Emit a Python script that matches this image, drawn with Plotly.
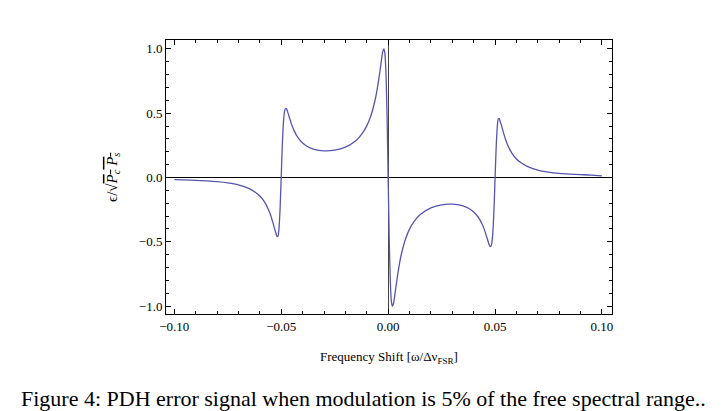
import plotly.graph_objects as go

# Frequency shift (units of FSR) and normalized PDH error signal
freq_shift = [
    -0.100, -0.095, -0.090, -0.085, -0.080, -0.075, -0.070, -0.065, -0.062, -0.060,
    -0.058, -0.056, -0.055, -0.054, -0.053, -0.0525, -0.052, -0.0515, -0.051, -0.0505,
    -0.050, -0.0495, -0.049, -0.0485, -0.048, -0.0475, -0.047, -0.046, -0.045, -0.044,
    -0.042, -0.040, -0.038, -0.035, -0.030, -0.025, -0.020, -0.015, -0.012, -0.010,
    -0.008, -0.006, -0.005, -0.004, -0.003, -0.0025, -0.002, -0.0015, -0.001, -0.0005,
    0.000,
    0.0005, 0.001, 0.0015, 0.002, 0.0025, 0.003, 0.004, 0.005, 0.006, 0.008,
    0.010, 0.012, 0.015, 0.020, 0.025, 0.030, 0.035, 0.038, 0.040, 0.042,
    0.044, 0.045, 0.046, 0.047, 0.0475, 0.048, 0.0485, 0.049, 0.0495, 0.050,
    0.0505, 0.051, 0.0515, 0.052, 0.0525, 0.053, 0.054, 0.055, 0.056, 0.058,
    0.060, 0.062, 0.065, 0.070, 0.075, 0.080, 0.085, 0.090, 0.095, 0.100,
]
error_signal = [
    -0.017, -0.019, -0.022, -0.026, -0.032, -0.042, -0.058, -0.087, -0.116, -0.144,
    -0.185, -0.248, -0.291, -0.345, -0.405, -0.430, -0.458, -0.455, -0.385, -0.225,
    0.010, 0.250, 0.420, 0.510, 0.536, 0.532, 0.510, 0.456, 0.405, 0.364,
    0.305, 0.268, 0.243, 0.221, 0.207, 0.212, 0.236, 0.288, 0.345, 0.401,
    0.484, 0.610, 0.698, 0.806, 0.928, 0.980, 1.000, 0.962, 0.802, 0.471,
    0.000,
    -0.471, -0.802, -0.962, -1.000, -0.980, -0.928, -0.806, -0.698, -0.610, -0.484,
    -0.401, -0.345, -0.288, -0.236, -0.212, -0.207, -0.221, -0.243, -0.268, -0.305,
    -0.364, -0.405, -0.456, -0.510, -0.532, -0.536, -0.510, -0.420, -0.250, -0.010,
    0.225, 0.385, 0.455, 0.458, 0.430, 0.405, 0.345, 0.291, 0.248, 0.185,
    0.144, 0.116, 0.087, 0.058, 0.042, 0.032, 0.026, 0.022, 0.019, 0.012,
]

x_ticks = [-0.10, -0.05, 0.00, 0.05, 0.10]
x_tick_labels = ["\u22120.10", "\u22120.05", "0.00", "0.05", "0.10"]
y_ticks = [-1.0, -0.5, 0.0, 0.5, 1.0]
y_tick_labels = ["\u22121.0", "\u22120.5", "0.0", "0.5", "1.0"]

FONT = "Liberation Serif"

fig = go.Figure()
fig.add_trace(go.Scatter(
    x=freq_shift, y=error_signal, mode="lines",
    line=dict(color="rgb(85,85,175)", width=1.3, shape="spline", smoothing=0.5),
    hoverinfo="skip", showlegend=False,
))

axis_common = dict(
    showline=True, linecolor="black", linewidth=1, mirror="ticks",
    ticks="inside", ticklen=5, tickcolor="black", tickwidth=1,
    showgrid=False,
    tickfont=dict(family=FONT, size=13, color="black"),
)

fig.update_xaxes(
    **axis_common,
    range=[-0.1039, 0.1047],
    tickvals=x_ticks, ticktext=x_tick_labels,
    minor=dict(ticks="inside", dtick=0.01, tick0=0, ticklen=3, tickcolor="black", showgrid=False),
    zeroline=True, zerolinecolor="#444444", zerolinewidth=1.2,
)
fig.update_yaxes(
    **axis_common,
    range=[-1.0606, 1.0683],
    tickvals=y_ticks, ticktext=y_tick_labels,
    minor=dict(ticks="inside", dtick=0.1, tick0=0, ticklen=3, tickcolor="black", showgrid=False),
    zeroline=True, zerolinecolor="black", zerolinewidth=1,
)

fig.update_layout(
    width=727, height=411,
    margin=dict(l=166, r=115, t=40, b=97),
    paper_bgcolor="white", plot_bgcolor="white",
    font=dict(family=FONT, color="black"),
    annotations=[
        dict(text="Frequency Shift [\u03c9/\u0394\u03bd<sub>FSR</sub>]",
             xref="paper", yref="paper", x=0.5, y=-0.16, xanchor="center", yanchor="middle",
             showarrow=False, font=dict(family=FONT, size=13, color="black")),
        dict(text="\u03f5/\u221a<span style='text-decoration:overline'><i>P</i><sub><i>c</i></sub> <i>P</i><sub><i>s</i></sub></span>",
             xref="paper", yref="paper", x=-0.119, y=0.5, xanchor="center", yanchor="middle",
             textangle=-90, showarrow=False, font=dict(family=FONT, size=15, color="black")),
        dict(text="Figure 4: PDH error signal when modulation is 5% of the free spectral range..",
             xref="paper", yref="paper", x=-0.329, y=-0.307, xanchor="left", yanchor="middle",
             showarrow=False, font=dict(family=FONT, size=22, color="black")),
    ],
)

fig.write_html("out.html", config={"displayModeBar": False},
               post_script="document.body.style.margin='0';")
